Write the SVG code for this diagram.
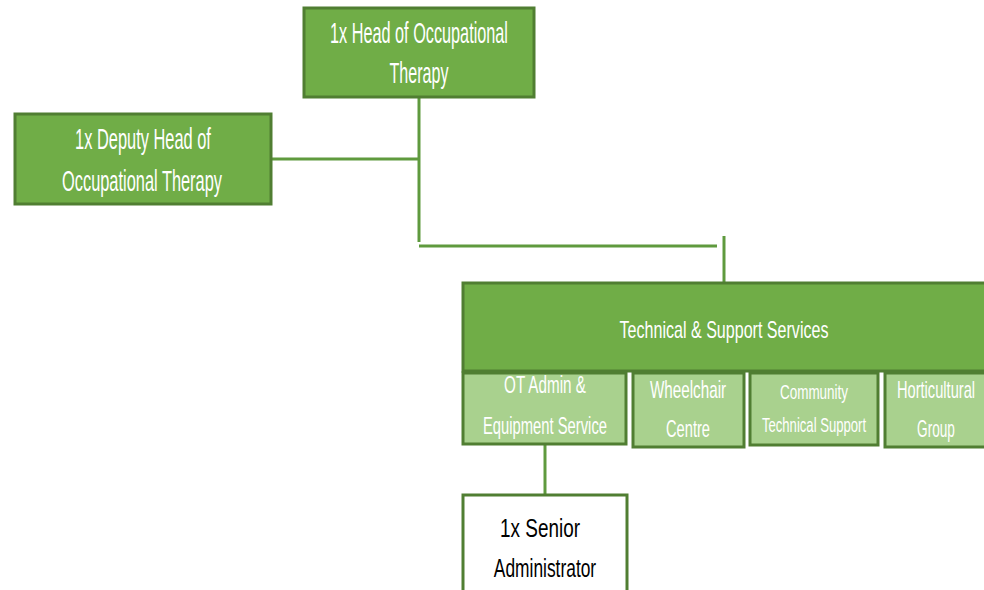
<svg xmlns="http://www.w3.org/2000/svg" width="984" height="590" viewBox="0 0 984 590">
<style>
.box{fill:#70AD47;stroke:#507E32;stroke-width:3}
.sub{fill:#A9D18E;stroke:#507E32;stroke-width:3}
.wbox{fill:#FFFFFF;stroke:#507E32;stroke-width:3}
.t{font-family:"Liberation Sans",Arial,sans-serif;fill:#FFFFFF;text-anchor:middle}
.dk{fill:#000000}
.con{stroke:#5F9A3E;stroke-width:3;fill:none}
</style>
<rect width="984" height="590" fill="#FFFFFF"/>
<g id="connectors">
<path class="con" d="M419 97 V242"/>
<path class="con" d="M271 159 H419"/>
<path class="con" d="M419 246 H717"/>
<path class="con" d="M724 236 V283"/>
<path class="con" d="M545 444 V495"/>
</g>
<g id="head">
<rect class="box" x="304" y="8" width="230" height="89"/>
<text class="t" transform="translate(419 43) scale(0.62 1)" x="0" y="0" font-size="29" textLength="287" lengthAdjust="spacingAndGlyphs">1x Head of Occupational</text>
<text class="t" transform="translate(419 83) scale(0.62 1)" x="0" y="0" font-size="29" textLength="95" lengthAdjust="spacingAndGlyphs">Therapy</text>
</g>
<g id="deputy">
<rect class="box" x="15" y="114" width="256" height="90"/>
<text class="t" transform="translate(143 149) scale(0.62 1)" x="0" y="0" font-size="29" textLength="219" lengthAdjust="spacingAndGlyphs">1x Deputy Head of</text>
<text class="t" transform="translate(142 191) scale(0.62 1)" x="0" y="0" font-size="29" textLength="258" lengthAdjust="spacingAndGlyphs">Occupational Therapy</text>
</g>
<g id="technical">
<rect class="box" x="463" y="283" width="530" height="88"/>
<text class="t" transform="translate(724 338) scale(0.62 1)" x="0" y="0" font-size="23" textLength="337" lengthAdjust="spacingAndGlyphs">Technical &amp; Support Services</text>
</g>
<g id="otadmin">
<rect class="sub" x="463" y="373" width="163" height="71"/>
<text class="t" transform="translate(545 393) scale(0.62 1)" x="0" y="0" font-size="24" textLength="132" lengthAdjust="spacingAndGlyphs">OT Admin &amp;</text>
<text class="t" transform="translate(545 434) scale(0.62 1)" x="0" y="0" font-size="24" textLength="200" lengthAdjust="spacingAndGlyphs">Equipment Service</text>
</g>
<g id="wheelchair">
<rect class="sub" x="633" y="373" width="111" height="74"/>
<text class="t" transform="translate(688 398) scale(0.62 1)" x="0" y="0" font-size="24" textLength="123" lengthAdjust="spacingAndGlyphs">Wheelchair</text>
<text class="t" transform="translate(688 437) scale(0.62 1)" x="0" y="0" font-size="24" textLength="71" lengthAdjust="spacingAndGlyphs">Centre</text>
</g>
<g id="community">
<rect class="sub" x="750" y="373" width="128" height="72"/>
<text class="t" transform="translate(814 399) scale(0.62 1)" x="0" y="0" font-size="21" textLength="110" lengthAdjust="spacingAndGlyphs">Community</text>
<text class="t" transform="translate(814 432) scale(0.62 1)" x="0" y="0" font-size="21" textLength="168" lengthAdjust="spacingAndGlyphs">Technical Support</text>
</g>
<g id="horticultural">
<rect class="sub" x="885" y="373" width="110" height="74"/>
<text class="t" transform="translate(936 398) scale(0.62 1)" x="0" y="0" font-size="23" textLength="126" lengthAdjust="spacingAndGlyphs">Horticultural</text>
<text class="t" transform="translate(936 437) scale(0.62 1)" x="0" y="0" font-size="23" textLength="61" lengthAdjust="spacingAndGlyphs">Group</text>
</g>
<g id="senior">
<rect class="wbox" x="463" y="495" width="164" height="110"/>
<text class="t dk" transform="translate(540 537) scale(0.62 1)" x="0" y="0" font-size="26" textLength="129" lengthAdjust="spacingAndGlyphs">1x Senior</text>
<text class="t dk" transform="translate(545 577) scale(0.62 1)" x="0" y="0" font-size="26" textLength="165" lengthAdjust="spacingAndGlyphs">Administrator</text>
</g>
</svg>
